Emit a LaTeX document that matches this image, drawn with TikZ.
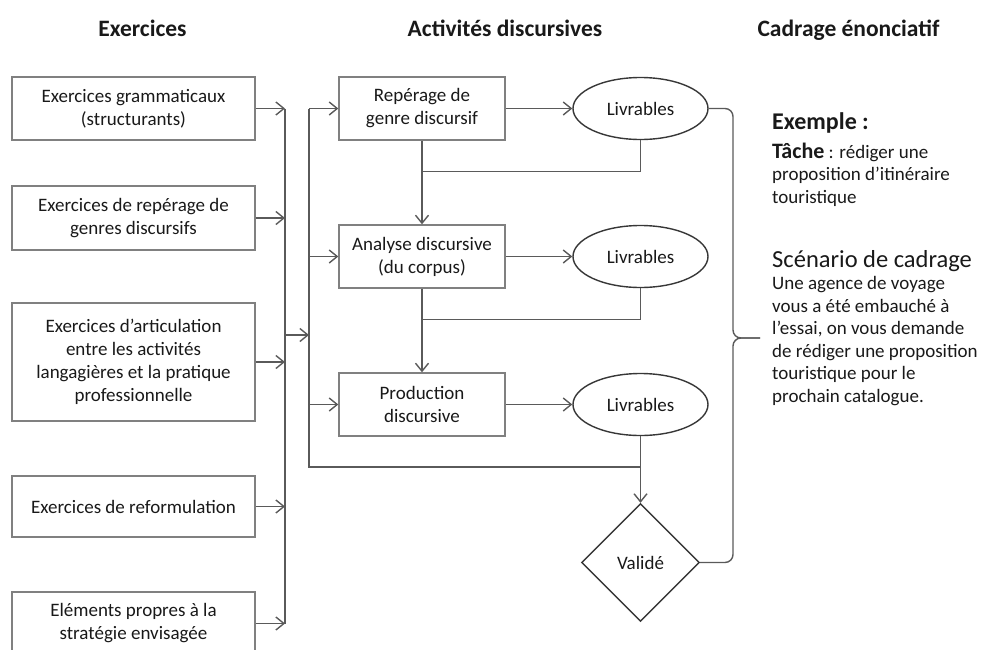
\documentclass[tikz,border=0pt]{standalone}
\usepackage{fontspec}
\setmainfont{Carlito}
\usetikzlibrary{shapes.geometric,arrows.meta,positioning}
\definecolor{boxline}{RGB}{128,128,128}
\definecolor{wirecol}{RGB}{90,90,90}
\definecolor{shapeline}{RGB}{55,55,55}
\definecolor{ink}{RGB}{25,25,25}
\tikzset{
  box/.style={rectangle, draw=boxline, line width=1.4pt, align=center, text=ink, font=\fontsize{19}{23}\selectfont, inner sep=2pt},
  exo/.style={box, minimum width=243pt},
  act/.style={box, minimum width=166pt, minimum height=63pt},
  livr/.style={ellipse, draw=shapeline, line width=1.4pt, minimum width=135pt, minimum height=62pt, inner sep=0pt, text=ink, font=\fontsize{19}{23}\selectfont},
  check/.style={diamond, draw=shapeline, line width=1.4pt, minimum width=118pt, minimum height=118pt, inner sep=0pt, text=ink, font=\fontsize{19}{23}\selectfont},
  head/.style={font=\fontsize{23.5}{28}\selectfont\bfseries, text=ink, anchor=base},
  txt/.style={text=ink, anchor=base west, align=left, inner sep=0pt, font=\fontsize{19}{22.5}\selectfont},
  wire/.style={draw=wirecol, line width=1.4pt},
  arr/.style={wire, -{Straight Barb[length=8pt, width=13pt]}}
}

\begin{document}
\begin{tikzpicture}[x=1pt, y=1pt]
\useasboundingbox (0,0) rectangle (983,-649);
\clip (0,0) rectangle (983,-649);

% column titles
\node[head] (hexo) at (142.5,-36) {Exercices};
\node[head] (hact) at (505,-36) {Activités discursives};
\node[head] (hcad) at (848.5,-36) {Cadrage énonciatif};

% exercises
\node[exo, minimum height=63pt] (ex1) at (133.5,-108.5) {Exercices grammaticaux\\(structurants)};
\node[exo, minimum height=64pt, below=44.6pt of ex1] (ex2) {Exercices de repérage de\\genres discursifs};
\node[exo, minimum height=118pt, below=51.6pt of ex2] (ex3) {Exercices d’articulation\\entre les activités\\langagières et la pratique\\professionnelle};
\node[exo, minimum height=61pt, below=53.6pt of ex3] (ex4) {Exercices de reformulation};
\node[exo, minimum height=63pt, below=53.6pt of ex4] (ex5) {Eléments propres à la\\stratégie envisagée};

% discursive activities and deliverables
\node[act] (act1) at (422,-108.5) {Repérage de\\genre discursif};
\node[act, below=83.6pt of act1] (act2) {Analyse discursive\\(du corpus)};
\node[act, below=83.6pt of act2] (act3) {Production\\discursive};
\node[livr, right=66.6pt of act1] (liv1) {Livrables};
\node[livr, right=66.6pt of act2] (liv2) {Livrables};
\node[livr, right=66.6pt of act3] (liv3) {Livrables};
\node[check, below=66.6pt of liv3] (valide) {Validé};

% buses
\coordinate (bus1) at (285,0);
\coordinate (bus2) at (309,0);
\coordinate (join) at (285,-335);
\coordinate (loop) at (309,-467);
\coordinate (brace) at (733,-338);

\foreach \e in {ex1,ex2,ex3,ex4,ex5}
  \draw[arr] (\e.east) -- (\e.east -| bus1);
\draw[wire] (ex1.east -| bus1) -- (ex5.east -| bus1);
\draw[arr] (join) -- (join -| bus2);
\draw[wire] (act1.west -| bus2) -- (loop) -- (loop -| liv3.south);
\foreach \a in {act1,act2,act3}
  \draw[arr] (\a.west -| bus2) -- (\a.west);

\draw[arr] (act1) -- (liv1); \draw[arr] (act2) -- (liv2); \draw[arr] (act3) -- (liv3);
\draw[arr] (act1.south) -- (act2.north); \draw[arr] (act2.south) -- (act3.north);
\draw[wire] (liv1.south) -- ++(0,-31) -| (act1.south);
\draw[wire] (liv2.south) -- ++(0,-31) -| (act2.south);
\draw[arr] (liv3.south) -- (valide.north);

% brace to the example
\draw[wire, rounded corners=8pt] (liv1.east) -- (liv1.east -| brace) -- (brace) -- ++(27,0);
\draw[wire, rounded corners=8pt] (valide.east) -- (valide.east -| brace) -- (brace) -- ++(27,0);

% example text (base anchor sits on the last line)
\node[txt, font=\fontsize{24}{28}\selectfont\bfseries] (exemple) at (772,-129) {Exemple :};
\node[txt] (tache) at (772,-203) {{\fontsize{22}{22.5}\selectfont\bfseries Tâche} : rédiger une\\proposition d’itinéraire\\touristique};
\node[txt, font=\fontsize{24.5}{28}\selectfont] (scen) at (772,-267) {Scénario de cadrage};
\node[txt] (scentxt) at (772,-402) {Une agence de voyage\\vous a été embauché à\\l’essai, on vous demande\\de rédiger une proposition\\touristique pour le\\prochain catalogue.};
\end{tikzpicture}
\end{document}
